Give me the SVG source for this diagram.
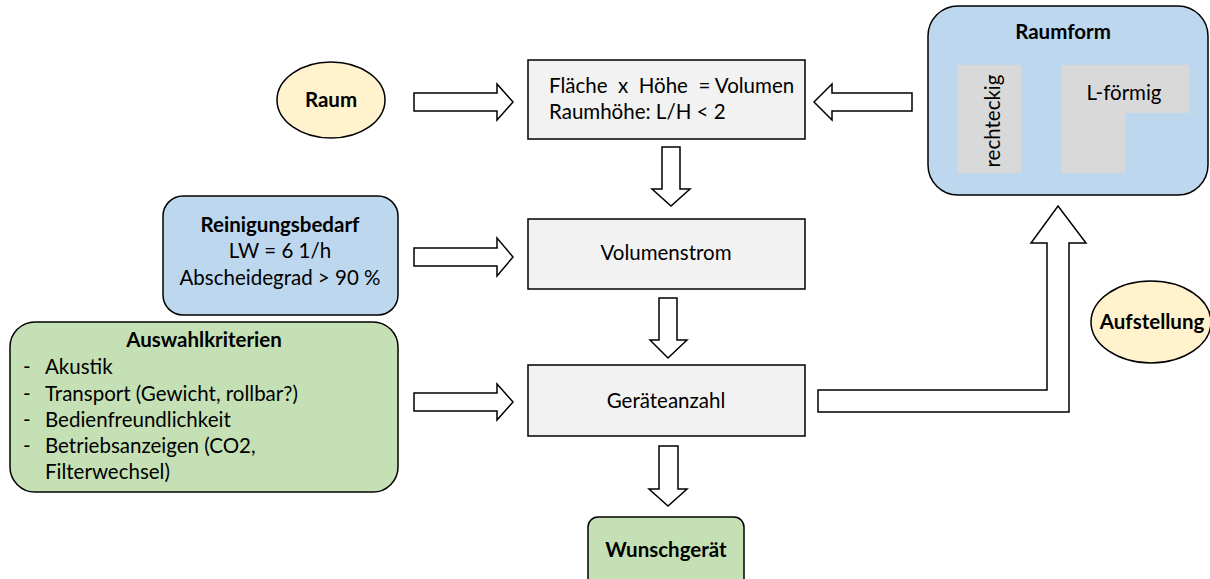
<svg xmlns="http://www.w3.org/2000/svg" width="1210" height="579" viewBox="0 0 1210 579">
<style>
text{font-family:Lato,"Open Sans","Liberation Sans",sans-serif;font-size:20.5px;fill:#000}
.b{font-weight:bold}
.c{text-anchor:middle}
.box{fill:#F2F2F2;stroke:#000;stroke-width:1.5}
.blue{fill:#BDD7EE;stroke:#000;stroke-width:1.5}
.green{fill:#C5E0B4;stroke:#000;stroke-width:1.5}
.oval{fill:#FFF2CC;stroke:#000;stroke-width:1.5}
.inner{fill:#D9D9D9;stroke:none}
.arr{fill:#fff;stroke:#000;stroke-width:1.5;stroke-linejoin:miter}
</style>
<rect width="1210" height="579" fill="#fff"/>
<g id="connectors">
<polygon class="arr" points="414,93 497,93 497,84 513,102 497,120 497,111 414,111"/>
<polygon class="arr" points="912,93 832,93 832,84 814,102 832,120 832,111 912,111"/>
<polygon class="arr" points="414,248 497,248 497,238 513,257 497,276 497,266 414,266"/>
<polygon class="arr" points="414,393 497,393 497,384 513,402 497,420 497,411 414,411"/>
<polygon class="arr" points="662,147 680,147 680,189 690,189 671,206 652,189 662,189"/>
<polygon class="arr" points="659,298 677,298 677,340 687,340 668,358 650,340 659,340"/>
<polygon class="arr" points="659,446 678,446 678,489 687,489 668,506 649,489 659,489"/>
<polygon class="arr" points="818,390 1047,390 1047,243 1031,243 1058,206 1086,243 1069,243 1069,412 818,412"/>
</g>
<g id="raum">
<ellipse class="oval" cx="331" cy="100" rx="54" ry="38"/>
<text class="b c" x="331" y="107">Raum</text>
</g>
<g id="volumen">
<rect class="box" x="528" y="60" width="277" height="79"/>
<text x="549" y="93" xml:space="preserve">Fläche  x  Höhe  = Volumen</text>
<text x="549" y="119">Raumhöhe: L/H &lt; 2</text>
</g>
<g id="raumform">
<rect class="blue" x="928" y="6" width="280" height="189" rx="30"/>
<text class="b c" x="1063" y="39">Raumform</text>
<rect class="inner" x="957" y="65" width="64" height="108"/>
<text class="c" transform="translate(1000,121) rotate(-90)">rechteckig</text>
<path class="inner" d="M1062,65 H1189 V113 H1125 V173 H1062 Z"/>
<text class="c" x="1124" y="100">L-förmig</text>
</g>
<g id="reinigung">
<rect class="blue" x="163" y="196" width="235" height="119" rx="20"/>
<text class="b c" x="280" y="232">Reinigungsbedarf</text>
<text class="c" x="280" y="258">LW = 6 1/h</text>
<text class="c" x="280" y="285">Abscheidegrad &gt; 90 %</text>
</g>
<g id="volumenstrom">
<rect class="box" x="528" y="219" width="277" height="70"/>
<text class="c" x="666" y="260">Volumenstrom</text>
</g>
<g id="auswahl">
<rect class="green" x="10" y="322" width="388" height="170" rx="25"/>
<text class="b c" x="204" y="347">Auswahlkriterien</text>
<text x="23" y="374">-</text><text x="45" y="374">Akustik</text>
<text x="23" y="401">-</text><text x="45" y="401">Transport (Gewicht, rollbar?)</text>
<text x="23" y="427">-</text><text x="45" y="427">Bedienfreundlichkeit</text>
<text x="23" y="453">-</text><text x="45" y="453">Betriebsanzeigen (CO2,</text>
<text x="45" y="479">Filterwechsel)</text>
</g>
<g id="geraeteanzahl">
<rect class="box" x="528" y="365" width="277" height="71"/>
<text class="c" x="666" y="408">Geräteanzahl</text>
</g>
<g id="aufstellung">
<ellipse class="oval" cx="1151" cy="322" rx="60" ry="41"/>
<text class="b c" x="1152" y="329">Aufstellung</text>
</g>
<g id="wunschgeraet">
<rect class="green" x="588" y="517" width="156" height="72" rx="10"/>
<text class="b c" x="666" y="557">Wunschgerät</text>
</g>
</svg>
